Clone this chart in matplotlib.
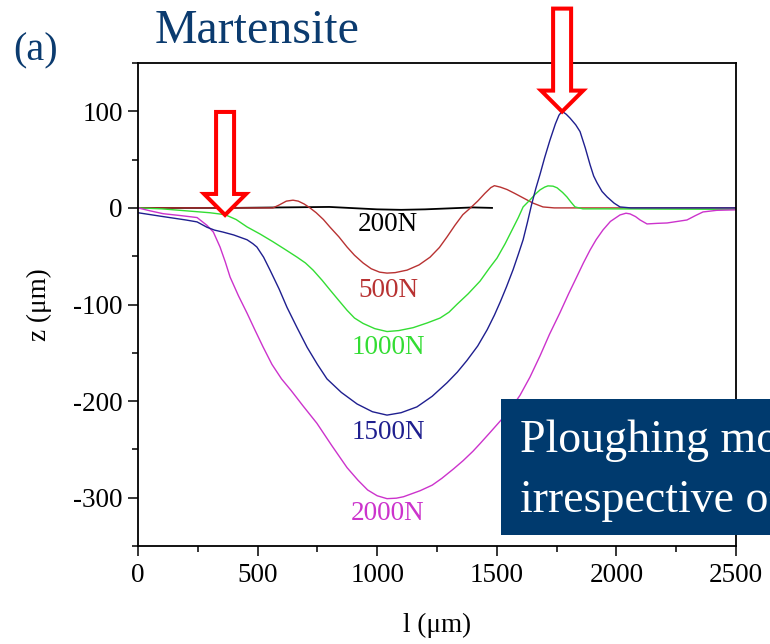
import matplotlib
matplotlib.use("Agg")
import matplotlib.pyplot as plt
import matplotlib.transforms as mtransforms
from matplotlib.patches import Polygon, Rectangle
from matplotlib.ticker import MultipleLocator

plt.rcParams['font.family'] = ['Liberation Serif', 'DejaVu Serif']
plt.rcParams['axes.unicode_minus'] = False

# Scratch-depth profiles, z (um) against track position l (um)
l_200 = [0, 200, 400, 600, 800, 1000, 1100, 1200, 1300, 1400, 1480]
z_200 = [0, 0, 0, 0.5, 1, -1.5, -2, -1.5, -0.5, 0.5, 0]

l_500 = [0, 300, 500, 564, 590, 620, 648, 670, 695, 719, 745, 775, 803, 840,
         874, 905, 941, 975, 1010, 1041, 1075, 1125, 1175, 1221, 1260, 1292,
         1325, 1358, 1390, 1420, 1450, 1475, 1490, 1515, 1543, 1575, 1610,
         1651, 1693, 1740, 2000, 2500]
z_500 = [0, 0, 0, 0, 3, 7, 8, 7, 4, 0, -5, -12, -20, -30, -40.5, -49, -57,
         -63, -66.5, -67.5, -67, -64.4, -59, -51, -41, -30, -18, -7, 0, 7,
         15, 21, 23, 21.5, 19, 15, 10.4, 5, 1, 0, 0, 0]

l_1000 = [0, 100, 200, 300, 364, 410, 456, 510, 564, 615, 665, 700, 732, 770,
          803, 840, 874, 905, 941, 990, 1041, 1090, 1150, 1210, 1263, 1300,
          1334, 1380, 1430, 1470, 1501, 1535, 1568, 1590, 1610, 1639, 1660,
          1681, 1700, 1714, 1735, 1752, 1775, 1793, 1810, 1827, 1860, 1950,
          2500]
z_1000 = [0, -1, -3, -5, -7, -12, -19.7, -27, -35, -43, -51, -57, -64.4, -75,
          -85, -96, -106, -114, -119.6, -125, -128, -127, -124, -119, -114,
          -108, -99.7, -89, -75.8, -62, -51.9, -37, -20.8, -10, 1, 8.3, 14,
          18.7, 21.5, 22.8, 22.5, 20.8, 16, 11.4, 6, 1, -1, -1, -1.5]

l_1500 = [0, 105, 200, 247, 288, 320, 355, 400, 456, 480, 497, 525, 552, 590,
          623, 665, 707, 750, 790, 850, 916, 980, 1041, 1100, 1166, 1230,
          1292, 1335, 1375, 1420, 1460, 1490, 1515, 1540, 1568, 1590, 1610,
          1628, 1645, 1663, 1681, 1700, 1722, 1745, 1760, 1773, 1790, 1806,
          1830, 1848, 1870, 1890, 1905, 1919, 1940, 1961, 1990, 2015, 2060,
          2500]
z_1500 = [-5, -9, -12.5, -14.5, -20, -23, -25, -28, -33, -37, -40.5, -51,
          -64.4, -84, -103, -124, -144.3, -162, -177, -191, -203, -211,
          -214.5, -212, -206, -195, -181, -170, -158, -143, -126, -111, -97,
          -82, -64, -48, -33, -15, 3, 20, 35, 52, 70, 87, 96, 100, 97, 93, 86,
          79, 62, 44.6, 33, 26, 17, 11.4, 5, 1, 0, 0]

l_2000 = [0, 50, 105, 180, 247, 288, 315, 343, 365, 385, 420, 456, 490, 523,
          560, 600, 640, 690, 748, 810, 874, 920, 960, 1000, 1041, 1080, 1110,
          1179, 1230, 1270, 1320, 1359, 1400, 1430, 1470, 1513, 1555, 1597,
          1639, 1681, 1720, 1764, 1800, 1835, 1862, 1890, 1915, 1944, 1975,
          2015, 2040, 2057, 2080, 2099, 2128, 2170, 2212, 2255, 2295, 2330,
          2362, 2420, 2500]
z_2000 = [0, -3, -6, -8, -10, -18, -25, -40.5, -56, -71.6, -91, -109, -127,
          -144, -162, -177, -189, -205, -223, -246, -268.9, -282, -292, -298,
          -301, -300.5, -299, -292.8, -287, -280, -270, -261.7, -252, -244,
          -233, -221, -209, -194, -175, -153, -131, -108.5, -89, -71, -57,
          -43.6, -33, -22.8, -14, -7.3, -5.5, -6.2, -9, -12.5, -16.6, -16,
          -15.6, -14, -12.5, -8, -4.2, -2.5, -2]

loads = ['200N', '500N', '1000N', '1500N', '2000N']
colors = ['#000000', '#b83232', '#33dd33', '#1f1f8f', '#cc33cc']
label_pos = [(1045, -17.6), (1045, -85), (1045, -144), (1045, -232.6),
             (1045, -316.7)]

# Arrow tips marking the onset of ploughing and the pile-up peak
arrow_tips = [(364, -7.3), (1773, 99.7)]

fig = plt.figure(figsize=(7.7, 6.44), dpi=100)
ax = fig.add_axes([138 / 770, 98 / 644, 598 / 770, 483 / 644])

profiles = [(l_200, z_200), (l_500, z_500), (l_1000, z_1000),
            (l_2000, z_2000), (l_1500, z_1500)]
plot_colors = [colors[0], colors[1], colors[2], colors[4], colors[3]]
widths = [1.3, 1.0, 1.0, 1.0, 1.0]
for (lx, zy), c, w in zip(profiles, plot_colors, widths):
    ax.plot(lx, zy, color=c, lw=w)

for name, c, (tx, ty) in zip(loads, colors, label_pos):
    ax.text(tx, ty, name, color=c, fontsize=19.5, ha='center', va='center')

ax.set_xlim(0, 2500)
ax.set_ylim(-350, 150)
ax.xaxis.set_major_locator(MultipleLocator(500))
ax.xaxis.set_minor_locator(MultipleLocator(250))
ax.yaxis.set_major_locator(MultipleLocator(100))
ax.yaxis.set_minor_locator(MultipleLocator(50))
ax.tick_params(axis='both', which='major', direction='out', length=7,
               width=1.1, labelsize=19.5, colors='black')
ax.tick_params(axis='both', which='minor', direction='out', length=4,
               width=1.1)
ax.tick_params(axis='x', which='major', pad=5)
ax.tick_params(axis='y', which='major', pad=4)
for s in ax.spines.values():
    s.set_linewidth(1.3)

ax.set_xlabel('l (μm)', fontsize=19.5)
ax.set_ylabel('z (μm)', fontsize=19.5)
ax.xaxis.set_label_coords(0.5, -0.164)
ax.xaxis.label.set_va('center')
ax.yaxis.set_label_coords(-0.164, 0.5)
ax.yaxis.label.set_va('center')

# Hollow red arrows, shape in pixels relative to the tip
arrow_shape = [(0, 0), (-21, 21), (-9, 21), (-9, 103), (9, 103), (9, 21),
               (21, 21)]
for tx, ty in arrow_tips:
    tr = (mtransforms.Affine2D().scale(fig.dpi / 100.0)
          + mtransforms.ScaledTranslation(tx, ty, ax.transData))
    ax.add_patch(Polygon(arrow_shape, closed=True, transform=tr,
                         facecolor='white', edgecolor='#ff0000', lw=2.9,
                         joinstyle='miter', clip_on=False, zorder=6))

title_col = '#0b3b6f'
fig.text(13 / 770, 1 - 60 / 644, '(a)', fontsize=29, color=title_col,
         ha='left', va='baseline')
fig.text(155 / 770, 1 - 43 / 644, 'Martensite', fontsize=34.5,
         color=title_col, ha='left', va='baseline')

box = Rectangle((501 / 770, 1 - 535 / 644), 0.5, 136 / 644,
                transform=fig.transFigure, facecolor='#003a6e',
                edgecolor='none', zorder=8)
fig.add_artist(box)
fig.text(520 / 770, 1 - 452 / 644, 'Ploughing mode', fontsize=33,
         color='white', ha='left', va='baseline', zorder=9)
fig.text(520 / 770, 1 - 512 / 644, 'irrespective of load', fontsize=33,
         color='white', ha='left', va='baseline', zorder=9)

fig.savefig('out.png', dpi=100)
